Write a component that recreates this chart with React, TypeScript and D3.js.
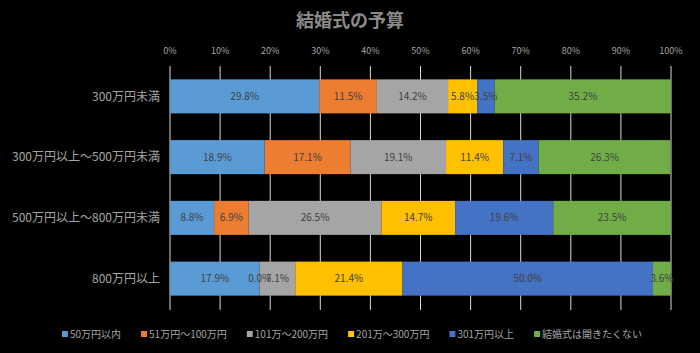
import React, { useEffect, useRef } from 'react';
import * as d3 from 'd3';

const categories = ['300万円未満', '300万円以上～500万円未満', '500万円以上～800万円未満', '800万円以上'];
const seriesNames = ['50万円以内', '51万円～100万円', '101万～200万円', '201万～300万円', '301万円以上', '結婚式は開きたくない'];
const seriesColors = ['#5B9BD5', '#ED7D31', '#A5A5A5', '#FFC000', '#4472C4', '#70AD47'];
// one array per series, values in the order of categories
const upTo50 = [29.8, 18.9, 8.8, 17.9];
const from51to100 = [11.5, 17.1, 6.9, 0.0];
const from101to200 = [14.2, 19.1, 26.5, 7.1];
const from201to300 = [5.8, 11.4, 14.7, 21.4];
const over301 = [3.5, 7.1, 19.6, 50.0];
const noWedding = [35.2, 26.3, 23.5, 3.6];
const tickValues = [0, 10, 20, 30, 40, 50, 60, 70, 80, 90, 100];

const W = 700;
const H = 353;
const FONT = '"Noto Sans CJK JP", "Noto Sans", sans-serif';

const App: React.FC = () => {
  const svgRef = useRef<SVGSVGElement | null>(null);

  useEffect(() => {
    if (!svgRef.current) return;
    document.body.style.margin = '0';
    document.body.style.background = '#000';

    const svg = d3.select(svgRef.current);
    svg.selectAll('*').remove();

    const allSeries = [upTo50, from51to100, from101to200, from201to300, over301, noWedding];
    const rows = categories.map((c, i) => {
      const r: any = { cat: c };
      seriesNames.forEach((s, j) => { r[s] = allSeries[j][i]; });
      return r;
    });
    const stacked = d3.stack<any>().keys(seriesNames)(rows);

    const margin = { top: 66, right: 29, bottom: 44, left: 170 };
    const x = d3.scaleLinear().domain([0, 100]).range([margin.left, W - margin.right]);
    const y = d3.scaleBand<string>().domain(categories).range([margin.top, H - margin.bottom]).paddingInner(0.44).paddingOuter(0.22);

    svg.append('rect').attr('width', W).attr('height', H).attr('fill', '#000');

    // title
    svg.append('text')
      .attr('x', 350).attr('y', 27)
      .attr('text-anchor', 'middle')
      .style('font-family', FONT).style('font-size', '18px').style('font-weight', 'bold')
      .style('fill', '#8a8a8a')
      .text('結婚式の予算');

    // gridlines + top tick labels
    const grid = svg.append('g');
    grid.selectAll('line').data(tickValues).enter().append('line')
      .attr('x1', d => x(d)).attr('x2', d => x(d))
      .attr('y1', margin.top).attr('y2', H - margin.bottom + 1)
      .attr('stroke', '#d9d9d9').attr('stroke-width', 1);
    grid.selectAll('text').data(tickValues).enter().append('text')
      .attr('x', d => x(d)).attr('y', 54)
      .attr('text-anchor', 'middle')
      .style('font-family', FONT).style('font-size', '9px')
      .style('fill', '#a6a6a6')
      .text(d => d + '%');

    // category labels
    svg.append('g').selectAll('text').data(categories).enter().append('text')
      .attr('x', margin.left - 10)
      .attr('y', d => (y(d) as number) + y.bandwidth() / 2)
      .attr('dy', '0.35em')
      .attr('text-anchor', 'end')
      .style('font-family', FONT).style('font-size', '12px')
      .style('fill', '#a6a6a6')
      .text(d => d);

    // bars
    const layers = svg.append('g').selectAll('g').data(stacked).enter().append('g')
      .attr('fill', (_d, i) => seriesColors[i]);
    layers.selectAll('rect').data(d => d).enter().append('rect')
      .attr('x', d => x(d[0]))
      .attr('y', d => y(d.data.cat) as number)
      .attr('width', d => Math.max(0, x(d[1]) - x(d[0])))
      .attr('height', y.bandwidth());

    // data labels
    const lab = svg.append('g');
    stacked.forEach(layer => {
      layer.forEach(d => {
        const v = d[1] - d[0];
        lab.append('text')
          .attr('x', (x(d[0]) + x(d[1])) / 2)
          .attr('y', (y(d.data.cat) as number) + y.bandwidth() / 2)
          .attr('dy', '0.35em')
          .attr('text-anchor', 'middle')
          .style('font-family', FONT).style('font-size', '10px')
          .style('fill', '#404040')
          .text(v.toFixed(1) + '%');
      });
    });

    // legend, laid out from measured text widths
    const leg = svg.append('g');
    const items = seriesNames.map((name, i) => {
      const g = leg.append('g');
      g.append('rect').attr('width', 6).attr('height', 6).attr('y', -3).attr('fill', seriesColors[i]);
      const t = g.append('text').attr('x', 8).attr('dy', '0.35em')
        .style('font-family', FONT).style('font-size', '10px')
        .style('fill', '#a6a6a6')
        .text(name);
      const w = 8 + (t.node() as SVGTextElement).getComputedTextLength();
      return { g, w };
    });
    const gap = 20;
    const total = d3.sum(items, d => d.w) + gap * (items.length - 1);
    let cx = 352 - total / 2;
    items.forEach(it => {
      it.g.attr('transform', `translate(${cx},334)`);
      cx += it.w + gap;
    });
  }, []);

  return <svg ref={svgRef} width={W} height={H} style={{ display: 'block' }}></svg>;
};

export default App;
